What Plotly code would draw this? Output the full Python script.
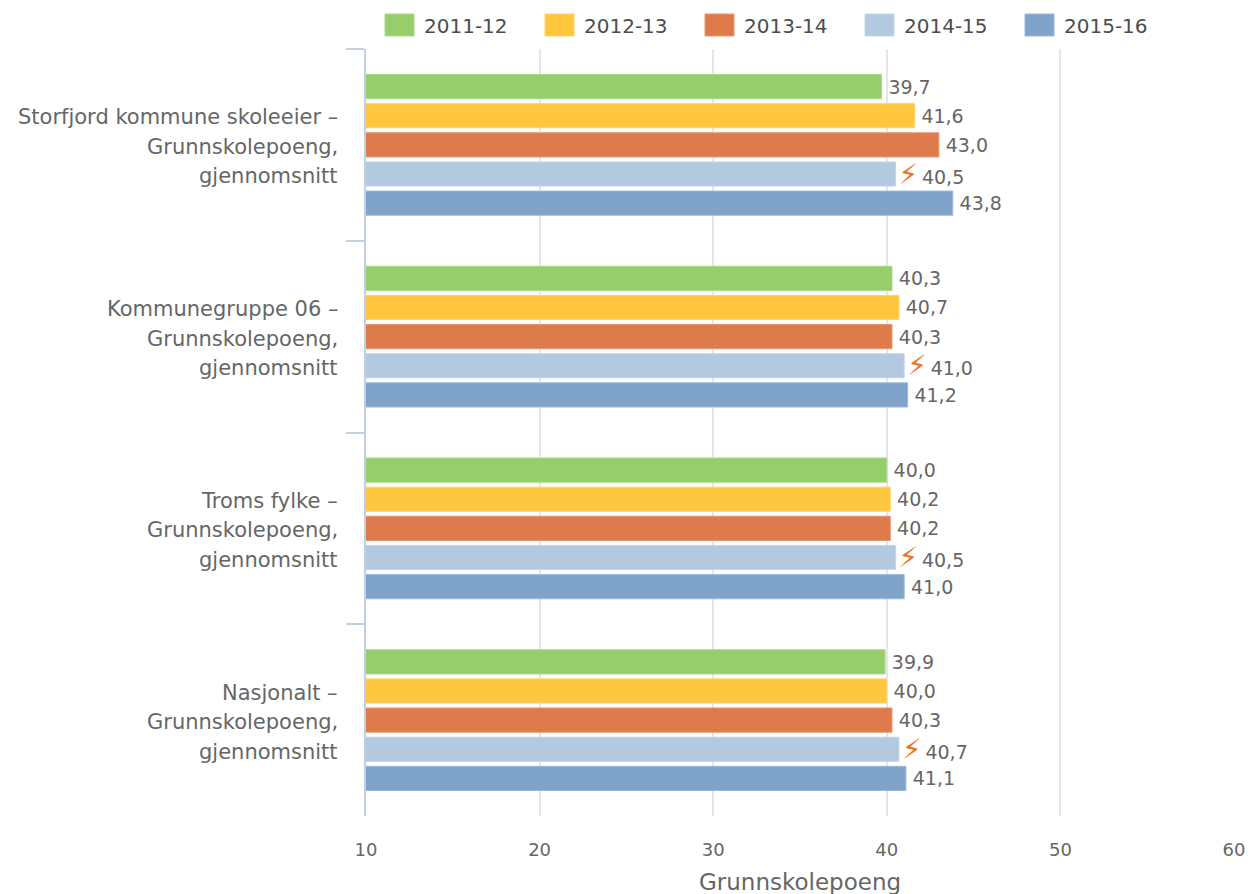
import plotly.graph_objects as go

categories = ["Storfjord kommune skoleeier –", "Kommunegruppe 06 –", "Troms fylke –", "Nasjonalt –"]
second_lines = ["Grunnskolepoeng,", "gjennomsnitt"]
series_names = ["2011-12", "2012-13", "2013-14", "2014-15", "2015-16"]
v2011 = [39.7, 40.3, 40.0, 39.9]
v2012 = [41.6, 40.7, 40.2, 40.0]
v2013 = [43.0, 40.3, 40.2, 40.3]
v2014 = [40.5, 41.0, 40.5, 40.7]
v2015 = [43.8, 41.2, 41.0, 41.1]
values = [v2011, v2012, v2013, v2014, v2015]
colors = ["#95ce6a", "#ffc640", "#de7b4d", "#b2c9df", "#80a4c9"]
edges = ["#a9d98a", "#ffd36b", "#e59672", "#c3d6e8", "#9ab8d6"]
flagged = "2014-15"
FONT = "DejaVu Sans"
TXT = "#666666"

fig = go.Figure()
for name, vals, c, e in zip(series_names, values, colors, edges):
    if name == flagged:
        text = ['<span style="color:#f0701e;font-size:28px">⚡\ufe0e</span>\u2009' + f"{v:.1f}".replace(".", ",") for v in vals]
    else:
        text = ["\u2009" + f"{v:.1f}".replace(".", ",") for v in vals]
    fig.add_trace(go.Bar(
        y=categories, x=vals, name=name, orientation="h",
        marker=dict(color=c, line=dict(color=e, width=1)),
        text=text, textposition="outside", cliponaxis=False, constraintext="none",
        textfont=dict(family=FONT, size=19, color=TXT),
    ))

annotations = []
for cat in categories:
    for i, line in enumerate([cat] + second_lines):
        annotations.append(dict(
            x=0, xref="paper", y=cat, yref="y", text=line, showarrow=False,
            xanchor="right", yanchor="middle", xshift=-26, yshift=(1 - i) * 29.5 - 2,
            font=dict(family=FONT, size=21, color=TXT),
        ))

for i, name in enumerate(series_names):
    x0 = (385 - 366 + i * 160) / 868
    fig.add_shape(type="rect", xref="paper", yref="paper", x0=x0, x1=x0 + 29 / 868,
                  y0=(816 - 36) / 767, y1=(816 - 14) / 767,
                  fillcolor=colors[i], line=dict(color=edges[i], width=1))
    annotations.append(dict(
        x=x0 + 37 / 868, xref="paper", y=(816 - 26) / 767, yref="paper", text=name,
        showarrow=False, xanchor="left", yanchor="middle",
        font=dict(family=FONT, size=20, color="#4d4d4d"),
    ))

annotations.append(dict(
    x=(800 - 366) / 868, xref="paper", y=(816 - 882) / 767, yref="paper", text="Grunnskolepoeng",
    showarrow=False, xanchor="center", yanchor="middle",
    font=dict(family=FONT, size=23, color=TXT),
))

fig.update_layout(
    width=1250, height=894, autosize=False,
    margin=dict(l=366, r=16, t=49, b=78, pad=0),
    paper_bgcolor="white", plot_bgcolor="white",
    barmode="group", bargap=0.24, bargroupgap=0.17,
    showlegend=False, annotations=annotations,
    xaxis=dict(range=[10, 60], dtick=10, showgrid=True, gridcolor="#e6e6e6", gridwidth=2,
               zeroline=False, showline=False, automargin=False,
               ticks="outside", ticklen=17, tickcolor="rgba(0,0,0,0)",
               tickfont=dict(family=FONT, size=18, color=TXT)),
    yaxis=dict(autorange="reversed", showticklabels=False, tickson="boundaries", ticks="outside",
               ticklen=18, tickwidth=2, tickcolor="#c0d0e0", showline=True, linecolor="#c0d0e0",
               linewidth=2, showgrid=False, automargin=False),
)
fig.write_html("out.html", config={"displayModeBar": False},
               post_script="document.body.style.margin='0';document.documentElement.style.overflow='hidden';")
